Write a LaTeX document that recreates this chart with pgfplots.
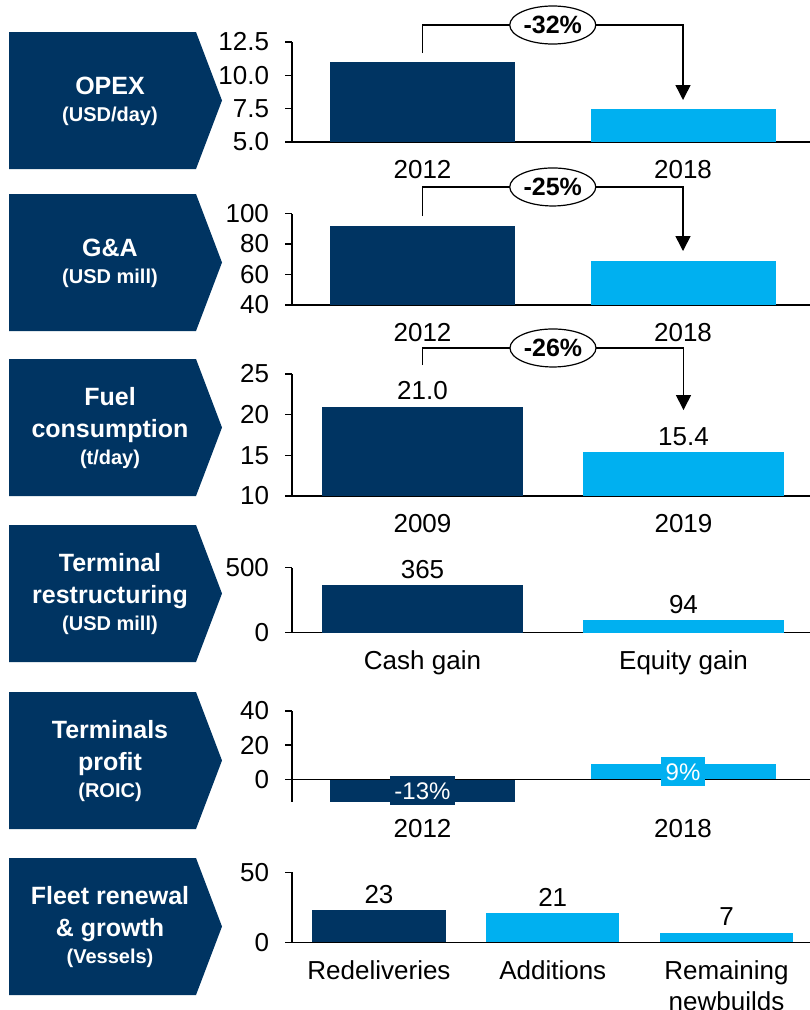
\documentclass[border=0pt]{standalone}
\usepackage{fontspec}
\setmainfont{Liberation Sans}
\usepackage{pgfplots}
\pgfplotsset{compat=1.18}
\usetikzlibrary{shapes.geometric,arrows.meta}
\definecolor{navy}{RGB}{0,52,98}
\definecolor{lblue}{RGB}{0,176,240}

\newcommand{\pent}[3]{%
  \fill[navy] (9pt,-#1pt) -- (196pt,-#1pt) -- (222pt,{-(#1+68.5)*1pt}) -- (196pt,{-(#1+137)*1pt}) -- (9pt,{-(#1+137)*1pt}) -- cycle;
  \node[text=white, align=center, inner sep=0pt, font=\bfseries\fontsize{25}{32}\selectfont] at (110pt,{-(#1+69.5)*1pt}) {#2\\[-5pt]{\fontsize{20}{24}\selectfont #3}};
}

\tikzset{
  arr/.style={line width=1.5pt, -{Triangle[width=15pt,length=15pt]}},
  pct/.style={ellipse, draw, fill=white, line width=1.2pt, minimum width=86pt, minimum height=38pt, inner sep=0pt, font=\bfseries\fontsize{25}{28}\selectfont},
}
\pgfplotsset{
  base/.style={
    scale only axis, width=518pt,
    axis x line*=bottom, axis y line*=left,
    axis line style={line width=1.5pt, black},
    ybar,
    tick align=outside, major tick length=7pt,
    ytick style={line width=1.5pt, black},
    xtick style={draw=none},
    tick label style={font=\fontsize{26}{31}\selectfont, text=black},
    yticklabel style={xshift=-12.5pt},
    xticklabel style={yshift=-7.5pt, align=center},
    /pgf/number format/assume math mode=true,
    enlargelimits=false,
    every node near coord/.append style={font=\fontsize{26}{30}\selectfont, text=black, yshift=3pt},
  },
  dark/.style={fill=navy, draw=none, bar shift=0pt},
  light/.style={fill=lblue, draw=none, bar shift=0pt},
}

\begin{document}
\begin{tikzpicture}
\useasboundingbox (0pt,0pt) rectangle (810pt,-1010pt);

\pent{32}{OPEX}{(USD/day)}
\pent{194}{G\&A}{(USD mill)}
\pent{359}{Fuel\\consumption}{(t/day)}
\pent{525}{Terminal\\restructuring}{(USD mill)}
\pent{692}{Terminals\\profit}{(ROIC)}
\pent{858}{Fleet renewal\\\& growth}{(Vessels)}

% Panel 1: OPEX
\begin{axis}[base, at={(292pt,-142pt)}, anchor=south west, height=100pt,
  xmin=-0.501, xmax=1.4875, ymin=5, ymax=12.5,
  ytick={5,7.5,10,12.5}, yticklabels={5.0,7.5,10.0,12.5},
  xtick={0,1}, xticklabels={2012,2018}, clip mode=individual]
\addplot[dark, bar width=185pt] coordinates {(0,11)};
\addplot[light, bar width=185pt] coordinates {(1,7.5)};
\draw[arr] (axis cs:0,11.675) |- (axis cs:1,13.775) -- (axis cs:1,8.15);
\node[pct] at (axis cs:0.5,13.775) {-32\%};
\end{axis}

% Panel 2: G&A
\begin{axis}[base, at={(292pt,-305pt)}, anchor=south west, height=91.5pt,
  xmin=-0.501, xmax=1.4875, ymin=40, ymax=100,
  ytick={40,60,80,100},
  xtick={0,1}, xticklabels={2012,2018}, clip mode=individual]
\addplot[dark, bar width=185pt] coordinates {(0,92)};
\addplot[light, bar width=185pt] coordinates {(1,69)};
\draw[arr] (axis cs:0,98.36) |- (axis cs:1,117.4) -- (axis cs:1,75.4);
\node[pct] at (axis cs:0.5,117.4) {-25\%};
\end{axis}

% Panel 3: Fuel
\begin{axis}[base, at={(292pt,-496pt)}, anchor=south west, height=122pt,
  xmin=-0.5, xmax=1.4847, ymin=10, ymax=25,
  ytick={10,15,20,25},
  xtick={0,1}, xticklabels={2009,2019}, clip mode=individual,
  nodes near coords,
  every node near coord/.append style={/pgf/number format/.cd, fixed, fixed zerofill, precision=1}]
\addplot[dark, bar width=201pt] coordinates {(0,21.0)};
\addplot[light, bar width=201pt] coordinates {(1,15.4)};
\draw[arr] (axis cs:0,26.1) |- (axis cs:1,28.2) -- (axis cs:1,20.57);
\node[pct] at (axis cs:0.5,28.2) {-26\%};
\end{axis}

% Panel 4: Terminal restructuring
\begin{axis}[base, at={(292pt,-632.5pt)}, anchor=south west, height=65pt,
  xmin=-0.5, xmax=1.4847, ymin=0, ymax=500,
  ytick={0,500},
  xtick={0,1}, xticklabels={Cash gain,Equity gain}, clip=false,
  nodes near coords]
\addplot[dark, bar width=201pt] coordinates {(0,365)};
\addplot[light, bar width=201pt] coordinates {(1,94)};
\end{axis}

% Panel 5: Terminals profit
\begin{axis}[base, at={(292pt,-801.5pt)}, anchor=south west, height=90.5pt,
  xmin=-0.501, xmax=1.4875, ymin=-13, ymax=40,
  ytick={0,20,40},
  x axis line style={draw=none},
  xtick={0,1}, xticklabels={2012,2018}, clip=false]
\addplot[dark, bar width=185pt] coordinates {(0,-13)};
\addplot[light, bar width=185pt] coordinates {(1,9)};
\draw[line width=1.5pt] (axis cs:-0.501,0) -- (axis cs:1.4875,0);
\node[fill=navy, text=white, inner xsep=4.5pt, inner ysep=0pt, minimum height=29pt, font=\fontsize{24}{28}\selectfont] at (axis cs:0,-6.7) {-13\%};
\node[fill=lblue, text=white, inner xsep=4.5pt, inner ysep=0pt, minimum height=29pt, font=\fontsize{24}{28}\selectfont] at (axis cs:1,4.4) {9\%};
\end{axis}

% Panel 6: Fleet
\begin{axis}[base, at={(292pt,-942.3pt)}, anchor=south west, height=70pt,
  xmin=-0.5007, xmax=2.4806, ymin=0, ymax=50,
  ytick={0,50},
  xtick={0,1,2}, xticklabels={Redeliveries,Additions,{Remaining\\newbuilds}}, clip=false,
  nodes near coords]
\addplot[dark, bar width=133pt] coordinates {(0,23)};
\addplot[light, bar width=133pt] coordinates {(1,21)};
\addplot[light, bar width=133pt] coordinates {(2,7)};
\end{axis}
\end{tikzpicture}
\end{document}
